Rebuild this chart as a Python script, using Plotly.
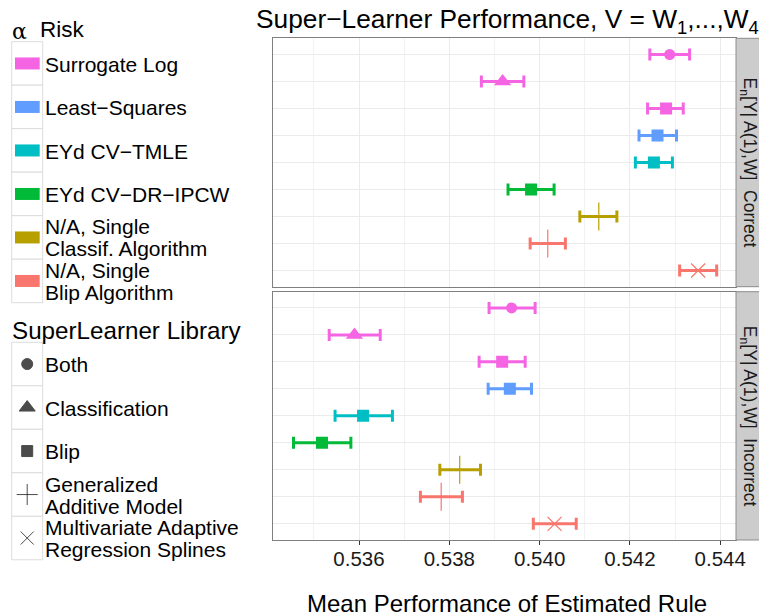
import plotly.graph_objects as go

# ---------------- data ----------------
row_ids = ["SL-Both", "SL-Classif", "SL-Blip", "LS-Blip", "TMLE-Blip",
           "DR-Blip", "Classif-GAM", "Blip-GAM", "Blip-MARS"]
row_risk = ["Surrogate Log", "Surrogate Log", "Surrogate Log", "Least−Squares",
            "EYd CV−TMLE", "EYd CV−DR−IPCW", "N/A, Single Classif. Algorithm",
            "N/A, Single Blip Algorithm", "N/A, Single Blip Algorithm"]
row_library = ["Both", "Classification", "Blip", "Blip", "Blip", "Blip",
               "Generalized Additive Model", "Generalized Additive Model",
               "Multivariate Adaptive Regression Splines"]

correct_mean = [0.54288, 0.53918, 0.54280, 0.54261, 0.54253, 0.53981, 0.54131, 0.54018, 0.54351]
correct_lo   = [0.54244, 0.53871, 0.54239, 0.54220, 0.54212, 0.53930, 0.54089, 0.53979, 0.54310]
correct_hi   = [0.54332, 0.53965, 0.54318, 0.54303, 0.54294, 0.54032, 0.54171, 0.54057, 0.54392]

incorrect_mean = [0.53938, 0.53590, 0.53917, 0.53934, 0.53609, 0.53518, 0.53823, 0.53782, 0.54033]
incorrect_lo   = [0.53888, 0.53534, 0.53866, 0.53886, 0.53547, 0.53455, 0.53779, 0.53736, 0.53986]
incorrect_hi   = [0.53990, 0.53647, 0.53968, 0.53982, 0.53674, 0.53582, 0.53869, 0.53829, 0.54081]

risk_levels = ["Surrogate Log", "Least−Squares", "EYd CV−TMLE", "EYd CV−DR−IPCW",
               "N/A, Single Classif. Algorithm", "N/A, Single Blip Algorithm"]
risk_label_lines = [["Surrogate Log"], ["Least−Squares"], ["EYd CV−TMLE"], ["EYd CV−DR−IPCW"],
                    ["N/A, Single", "Classif. Algorithm"], ["N/A, Single", "Blip Algorithm"]]
risk_colors = ["#F564E3", "#619CFF", "#00BFC4", "#00BA38", "#B79F00", "#F8766D"]

lib_levels = ["Both", "Classification", "Blip", "Generalized Additive Model",
              "Multivariate Adaptive Regression Splines"]
lib_label_lines = [["Both"], ["Classification"], ["Blip"], ["Generalized", "Additive Model"],
                   ["Multivariate Adaptive", "Regression Splines"]]
lib_symbols = ["circle", "triangle-up", "square", "cross-thin-open", "x-thin-open"]
lib_sizes = [11, 15, 12, 20, 14]

x_ticks = [0.536, 0.538, 0.540, 0.542, 0.544]
x_minor = [0.535, 0.537, 0.539, 0.541, 0.543]
panel_names = ["Correct", "Incorrect"]

# ---------------- geometry (pixels) ----------------
W, H = 759, 616
FONT = "Liberation Sans, Arial, Helvetica, sans-serif"
def px(x): return x / W
def py(y): return 1 - y / H

panel_left, panel_right = 272.7, 736.0
panels_px = [(38.3, 286.7), (291.7, 540.0)]
strip_right = 759.0

fig = go.Figure(layout=dict(template="none"))

color_of = dict(zip(risk_levels, risk_colors))
sym_of = dict(zip(lib_levels, lib_symbols))
size_of = dict(zip(lib_levels, lib_sizes))

datasets = [(correct_mean, correct_lo, correct_hi), (incorrect_mean, incorrect_lo, incorrect_hi)]
for p, (mean, lo, hi) in enumerate(datasets):
    xa = "x" if p == 0 else "x2"
    ya = "y" if p == 0 else "y2"
    for i, rid in enumerate(row_ids):
        c = color_of[row_risk[i]]
        s = sym_of[row_library[i]]
        thin = "thin" in s
        fig.add_trace(go.Scatter(
            x=[mean[i]], y=[rid], xaxis=xa, yaxis=ya, mode="markers",
            showlegend=False,
            marker=dict(symbol=s, size=size_of[row_library[i]], color=c,
                        line=dict(color=c, width=1.2 if thin else 0)),
            error_x=dict(type="data", symmetric=False,
                         array=[hi[i] - mean[i]], arrayminus=[mean[i] - lo[i]],
                         color=c, thickness=3, width=6),
        ))

xr = [0.534089, 0.544348]
common_x = dict(range=xr, tickvals=x_ticks, showgrid=True, gridcolor="#EBEBEB",
                gridwidth=1.1, zeroline=False, showline=True, linecolor="#7F7F7F",
                linewidth=1, mirror=True, automargin=False,
                minor=dict(tickvals=x_minor, showgrid=True,
                           gridcolor="#F2F2F2", gridwidth=0.6, ticks=""),
                domain=[px(panel_left), px(panel_right)])
common_y = dict(categoryorder="array", categoryarray=row_ids, range=[8.6, -0.6],
                type="category", showticklabels=False, ticks="", showgrid=True,
                gridcolor="#EBEBEB", gridwidth=1.1, zeroline=False, showline=True,
                linecolor="#7F7F7F", linewidth=1, mirror=True, automargin=False)

fig.update_layout(
    xaxis=dict(**common_x, anchor="y", showticklabels=False, ticks=""),
    xaxis2=dict(**common_x, anchor="y2", ticks="outside", ticklen=4,
                tickcolor="#333333", tickformat=".3f", ticklabelstandoff=-4,
                tickfont=dict(family=FONT, size=20.5, color="#1A1A1A")),
    yaxis=dict(**common_y, domain=[py(panels_px[0][1]), py(panels_px[0][0])], anchor="x"),
    yaxis2=dict(**common_y, domain=[py(panels_px[1][1]), py(panels_px[1][0])], anchor="x2"),
    xaxis3=dict(domain=[0, 1], range=[0, W], visible=False, anchor="y3", automargin=False),
    yaxis3=dict(domain=[0, 1], range=[H, 0], visible=False, anchor="x3", automargin=False),
    width=W, height=H, margin=dict(l=0, r=0, t=0, b=0, pad=0), autosize=False,
    paper_bgcolor="white", plot_bgcolor="rgba(0,0,0,0)", showlegend=False,
    font=dict(family=FONT, color="#000000"),
)

shapes = []
annotations = []

def text_at(x, y, text, size, anchor="left", **kw):
    annotations.append(dict(xref="paper", yref="paper", x=px(x), y=py(y), text=text,
                            showarrow=False, xanchor=anchor, yanchor="middle",
                            font=dict(family=kw.pop("family", FONT), size=size,
                                      color=kw.pop("color", "#000000")), **kw))

# panel backgrounds (white) behind grid
for (t, b) in panels_px:
    shapes.append(dict(type="rect", xref="paper", yref="paper", layer="below",
                       x0=px(panel_left), x1=px(panel_right), y0=py(b), y1=py(t),
                       fillcolor="white", line=dict(width=0)))

# strips
for p, (t, b) in enumerate(panels_px):
    shapes.append(dict(type="rect", xref="paper", yref="paper",
                       x0=px(panel_right), x1=px(strip_right + 2), y0=py(b), y1=py(t),
                       fillcolor="#CCCCCC", line=dict(color="#8C8C8C", width=1)))
    annotations.append(dict(xref="paper", yref="paper", x=px((panel_right + strip_right) / 2 + 0.5),
                            y=py((t + b) / 2), text="E<sub>n</sub>[Y| A(1),W]  " + panel_names[p],
                            textangle=90, showarrow=False,
                            font=dict(family=FONT, size=17.5, color="#1A1A1A"),
                            xanchor="center", yanchor="middle"))

# title
text_at(254, 21, "Super−Learner Performance, V = W<sub>1</sub>,...,W<sub>4</sub>", 26.3)
# x axis title
text_at(507, 603, "Mean Performance of Estimated Rule", 24, anchor="center")

# legend: risk
text_at(10, 31, "α", 22, family="DejaVu Serif, Liberation Serif, serif")
text_at(38, 30, "Risk", 22.5)
key_x0, key_x1 = 11.7, 42.7
step = 43.5
top0 = 41.7
LAB = 21
for k, (lines, col) in enumerate(zip(risk_label_lines, risk_colors)):
    t = top0 + k * step
    shapes.append(dict(type="rect", xref="paper", yref="paper", x0=px(key_x0), x1=px(key_x1),
                       y0=py(t + step), y1=py(t), fillcolor="white", layer="below",
                       line=dict(color="#DCDCDC", width=1)))
    cy = t + step / 2
    shapes.append(dict(type="rect", xref="paper", yref="paper", x0=px(15), x1=px(39.7),
                       y0=py(cy + 6), y1=py(cy - 6), fillcolor=col, line=dict(width=0)))
    if len(lines) == 1:
        text_at(43, cy + 0.8, lines[0], LAB)
    else:
        text_at(43, cy - 10.5, lines[0], LAB)
        text_at(43, cy + 11.5, lines[1], LAB)

# legend: library
text_at(10, 330, "SuperLearner Library", 24.2)
top1 = 342.3
sym_y = []
for k, lines in enumerate(lib_label_lines):
    t = top1 + k * step
    shapes.append(dict(type="rect", xref="paper", yref="paper", x0=px(key_x0), x1=px(key_x1),
                       y0=py(t + step), y1=py(t), fillcolor="white", layer="below",
                       line=dict(color="#DCDCDC", width=1)))
    cy = t + step / 2
    sym_y.append(cy)
    if len(lines) == 1:
        text_at(43, cy + 0.8, lines[0], LAB)
    else:
        text_at(43, cy - 10.5, lines[0], LAB)
        text_at(43, cy + 11.5, lines[1], LAB)

fig.add_trace(go.Scatter(
    x=[27.2] * len(lib_levels), y=sym_y, xaxis="x3", yaxis="y3", mode="markers",
    showlegend=False, hoverinfo="skip",
    marker=dict(symbol=lib_symbols, size=[11, 14, 11, 15, 13], color="#000000",
                line=dict(color="#000000", width=1)),
))

fig.update_layout(shapes=shapes, annotations=annotations)
fig.write_html("out.html", config={"displayModeBar": False},
               post_script="document.body.style.margin='0px';")
